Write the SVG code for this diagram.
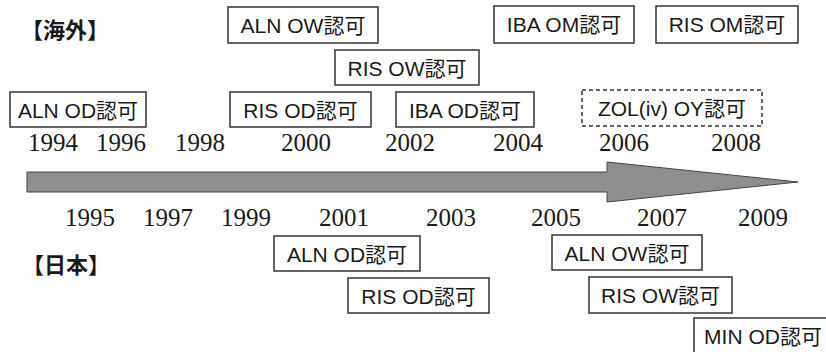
<svg xmlns="http://www.w3.org/2000/svg" width="826" height="352" viewBox="0 0 826 352">
  <style>
    .box { fill: #ffffff; stroke: #333333; stroke-width: 1.5; }
    .dash { fill: #ffffff; stroke: #333333; stroke-width: 1.5; stroke-dasharray: 4 3; }
    .lbl { font-family: "Liberation Sans", Arial, "Noto Sans CJK JP", sans-serif; font-size: 21px; fill: #1a1a1a; text-anchor: middle; }
    .yr { font-family: "Liberation Serif", "Times New Roman", serif; font-size: 25px; fill: #1a1a1a; }
    .hdr { font-family: "Noto Sans CJK JP", sans-serif; font-size: 22px; font-weight: bold; fill: #1a1a1a; }
  </style>
  <rect width="826" height="352" fill="#ffffff"/>

  <g id="connectors">
    <polygon id="timeline-arrow" points="27,172 607,172 607,162 798,182 607,202 607,192 27,192" fill="#8e8e8e" stroke="#444444" stroke-width="1"/>
  </g>

  <g id="header-overseas"><text class="hdr" x="21" y="38">【海外】</text></g>
  <g id="header-japan"><text class="hdr" x="22" y="273">【日本】</text></g>

  <g id="years-top">
    <text class="yr" x="28" y="151">1994</text>
    <text class="yr" x="96" y="151">1996</text>
    <text class="yr" x="175" y="151">1998</text>
    <text class="yr" x="281" y="151">2000</text>
    <text class="yr" x="385" y="151">2002</text>
    <text class="yr" x="493" y="151">2004</text>
    <text class="yr" x="599" y="151">2006</text>
    <text class="yr" x="711" y="151">2008</text>
  </g>
  <g id="years-bottom">
    <text class="yr" x="65" y="226">1995</text>
    <text class="yr" x="143" y="226">1997</text>
    <text class="yr" x="221" y="226">1999</text>
    <text class="yr" x="319" y="226">2001</text>
    <text class="yr" x="426" y="226">2003</text>
    <text class="yr" x="531" y="226">2005</text>
    <text class="yr" x="637" y="226">2007</text>
    <text class="yr" x="738" y="226">2009</text>
  </g>

  <g id="os-aln-ow"><rect class="box" x="228" y="7" width="150" height="36"/><text class="lbl" x="303" y="33">ALN OW認可</text></g>
  <g id="os-iba-om"><rect class="box" x="494" y="6" width="140" height="37"/><text class="lbl" x="564" y="32">IBA OM認可</text></g>
  <g id="os-ris-om"><rect class="box" x="656" y="6" width="142" height="37"/><text class="lbl" x="727" y="32">RIS OM認可</text></g>
  <g id="os-ris-ow"><rect class="box" x="335" y="50" width="144" height="35"/><text class="lbl" x="407" y="76">RIS OW認可</text></g>
  <g id="os-aln-od"><rect class="box" x="10" y="92" width="136" height="35"/><text class="lbl" x="78" y="118">ALN OD認可</text></g>
  <g id="os-ris-od"><rect class="box" x="230" y="92" width="141" height="35"/><text class="lbl" x="300.5" y="118">RIS OD認可</text></g>
  <g id="os-iba-od"><rect class="box" x="396" y="92" width="138" height="35"/><text class="lbl" x="465" y="118">IBA OD認可</text></g>
  <g id="os-zol-oy"><rect class="dash" x="582" y="90" width="180" height="36"/><text class="lbl" x="672" y="116">ZOL(iv) OY認可</text></g>

  <g id="jp-aln-od"><rect class="box" x="274" y="236" width="146" height="35"/><text class="lbl" x="347" y="262">ALN OD認可</text></g>
  <g id="jp-ris-od"><rect class="box" x="348" y="278" width="141" height="35"/><text class="lbl" x="418.5" y="304">RIS OD認可</text></g>
  <g id="jp-aln-ow"><rect class="box" x="552" y="235" width="150" height="35"/><text class="lbl" x="627" y="261">ALN OW認可</text></g>
  <g id="jp-ris-ow"><rect class="box" x="589" y="277" width="143" height="36"/><text class="lbl" x="660.5" y="303">RIS OW認可</text></g>
  <g id="jp-min-od"><rect class="box" x="694" y="318" width="140" height="40"/><text class="lbl" x="763" y="344">MIN OD認可</text></g>
</svg>
